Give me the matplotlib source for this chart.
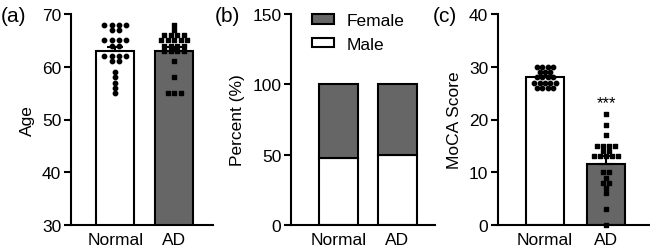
import matplotlib
matplotlib.use('Agg')
import matplotlib.pyplot as plt
import numpy as np
from matplotlib.patches import Patch

plt.rcParams['font.family'] = ['Liberation Sans', 'DejaVu Sans']
plt.rcParams['font.size'] = 12

# ---------------- data ----------------
groups = ['Normal', 'AD']

age_normal = [68, 68, 68, 68, 67, 67, 65, 65, 65, 65, 64, 64,
              62, 62, 62, 62, 61, 61, 59, 58, 57, 56, 55]
age_ad = [68, 67, 66, 66, 66, 66, 65, 65, 65, 65, 65, 64, 64, 64, 64,
          63, 63, 63, 63, 61, 58, 55, 55, 55]
age_mean = [62.9, 62.9]
age_sem = [0.9, 0.9]

male_pct = [47.5, 49.5]
female_pct = [52.5, 50.5]

moca_normal = [30, 30, 30, 30, 29, 29, 29, 28, 28, 28, 28,
               27, 27, 27, 27, 27, 26, 26, 26, 26]
moca_ad = [21, 19, 17, 15, 15, 15, 15, 14, 14, 13, 13, 13, 13, 13,
           10, 10, 9, 8, 8, 7, 6, 3, 0]
moca_mean = [28.0, 11.5]
moca_sem = [0.3, 1.6]

age_ticks = [30, 40, 50, 60, 70]
pct_ticks = [0, 50, 100, 150]
moca_ticks = [0, 10, 20, 30, 40]

DARK = '#666666'
LW = 1.5


def swarm_x(values, center, spacing):
    vals = np.asarray(values, float)
    xs = np.empty_like(vals)
    for v in np.unique(vals):
        idx = np.where(vals == v)[0]
        n = len(idx)
        xs[idx] = center + (np.arange(n) - (n - 1) / 2) * spacing
    return xs


def style(ax, ticks, ylabel):
    for s in ['top', 'right']:
        ax.spines[s].set_visible(False)
    for s in ['left', 'bottom']:
        ax.spines[s].set_linewidth(LW)
    ax.set_yticks(ticks)
    ax.set_ylim(ticks[0], ticks[-1])
    ax.tick_params(axis='y', direction='out', length=5, width=LW, labelsize=12.5, pad=2)
    ax.tick_params(axis='x', length=0, labelsize=12.5, pad=5)
    ax.set_xticks([0, 1])
    ax.set_xticklabels(groups)
    ax.set_ylabel(ylabel, fontsize=12.5, labelpad=5)


fig = plt.figure(figsize=(6.5, 2.53), dpi=100)
bot = 27 / 253
hgt = 211 / 253

# ---------------- (a) Age ----------------
ax1 = fig.add_axes([71 / 650, bot, 142 / 650, hgt])
x = np.arange(2)
ax1.bar(x, age_mean, width=0.64, color=['white', DARK], edgecolor='black',
        linewidth=LW, zorder=1)
ax1.errorbar(x, age_mean, yerr=[[0, 0], age_sem], fmt='none', ecolor='black',
             elinewidth=LW, capsize=5.5, capthick=LW, zorder=2)
ax1.scatter(swarm_x(age_normal, 0, 0.125), age_normal, s=10, marker='o',
            color='black', zorder=3, clip_on=False)
ax1.scatter(swarm_x(age_ad, 1, 0.11), age_ad, s=10, marker='s',
            color='black', zorder=3, clip_on=False)
ax1.set_xlim(-0.75, 1.66)
style(ax1, age_ticks, 'Age')

# ---------------- (b) Sex ----------------
ax2 = fig.add_axes([291 / 650, bot, 144 / 650, hgt])
ax2.bar(x, male_pct, width=0.66, color='white', edgecolor='black', linewidth=LW)
ax2.bar(x, female_pct, bottom=male_pct, width=0.66, color=DARK,
        edgecolor='black', linewidth=LW)
ax2.set_xlim(-0.8, 1.64)
style(ax2, pct_ticks, 'Percent (%)')
handles = [Patch(facecolor=DARK, edgecolor='black', linewidth=LW, label='Female'),
           Patch(facecolor='white', edgecolor='black', linewidth=LW, label='Male')]
ax2.legend(handles=handles, loc='upper left', bbox_to_anchor=(0.145, 1.005),
           frameon=False, fontsize=12.5, handlelength=1.25, handleheight=0.5,
           handletextpad=0.75, labelspacing=0.5, borderpad=0, borderaxespad=0)

# ---------------- (c) MoCA ----------------
ax3 = fig.add_axes([498 / 650, bot, 152 / 650, hgt])
ax3.bar(x, moca_mean, width=0.62, color=['white', DARK], edgecolor='black',
        linewidth=LW, zorder=1)
ax3.errorbar(x, moca_mean, yerr=[[0, 0], moca_sem], fmt='none', ecolor='black',
             elinewidth=LW, capsize=5.5, capthick=LW, zorder=2)
ax3.scatter(swarm_x(moca_normal, 0, 0.09), moca_normal, s=10, marker='o',
            color='black', zorder=3, clip_on=False)
ax3.scatter(swarm_x(moca_ad, 1, 0.1), moca_ad, s=10, marker='s',
            color='black', zorder=3, clip_on=False)
ax3.text(1, 22.3, '***', ha='center', va='baseline', fontsize=12)
ax3.set_xlim(-0.77, 1.72)
style(ax3, moca_ticks, 'MoCA Score')

# panel labels
for xp, lab in [(1, '(a)'), (215, '(b)'), (433, '(c)')]:
    fig.text(xp / 650, 1 - 16 / 253, lab, ha='left', va='center', fontsize=15)

fig.savefig('out.png', dpi=100)
